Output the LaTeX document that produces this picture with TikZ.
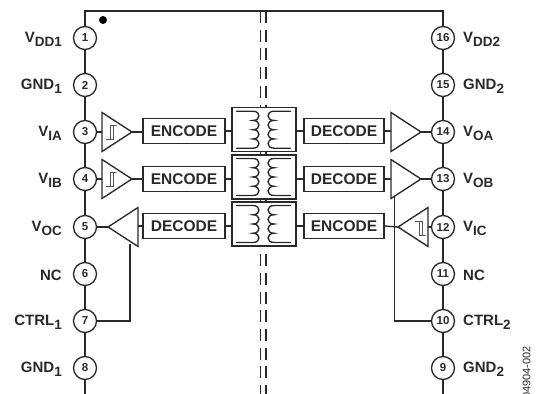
\documentclass[tikz,border=0pt]{standalone}
\usepackage{fontspec}
\setmainfont{Liberation Sans}
\usetikzlibrary{shapes.geometric,calc}
\definecolor{inkdark}{gray}{0.16}
\newcommand{\lowidx}[2]{#1\raisebox{-.3em}{\fontsize{13.5}{13.5}\selectfont #2}}
\tikzset{
  wire/.style={draw=inkdark,line width=1.35pt},
  pinball/.style={circle,draw=inkdark,line width=1.35pt,fill=white,minimum size=23pt,inner sep=0pt,
    text=inkdark,font=\fontsize{11.5}{11.5}\selectfont\bfseries},
  pinname/.style={text=inkdark,font=\fontsize{15}{15}\selectfont\bfseries,inner sep=0pt},
  codebox/.style={rectangle,draw=inkdark,line width=1.35pt,fill=white,minimum height=25pt,inner sep=0pt,
    text=inkdark,font=\fontsize{15.5}{15.5}\selectfont\bfseries},
  corebox/.style={rectangle,draw=inkdark,line width=1.4pt,fill=white,minimum width=64pt,minimum height=44pt,inner sep=0pt},
  buffer/.style={isosceles triangle,isosceles triangle stretches,draw=inkdark,line width=1.35pt,fill=white,
    minimum width=39pt,minimum height=30pt,inner sep=0pt,outer sep=0pt},
  schmitt/.pic={
    \draw[draw=inkdark!80,line width=1pt] (-5.5,7)--(2,7)--(2,-7)--(6,-7)--(-1,-7)--(-1,7);
  },
  coilpair/.pic={
    \foreach \s in {-1,1}{
      \draw[wire,xscale=\s,line cap=round] (-27,-18.5)--(-10.5,-18.5)
        \foreach \k in {0,1,2,3}{
          .. controls (-2.5,-18.5+9.25*\k) and (-2.5,-18.5+9.25*\k+9.25) .. (-10.5,-18.5+9.25*\k+9.25)
        } --(-27,18.5);
    }
  }
}
\begin{document}
\begin{tikzpicture}[x=1pt,y=-1pt]
  \useasboundingbox (0,0) rectangle (547,394);
  % package outline
  \coordinate (topl) at (85,11);
  \coordinate (topr) at (443,11);
  \coordinate (botl) at (85,394);
  \coordinate (botr) at (443,394);
  \draw[wire] (botl) -- (topl) -- (topr) -- (botr);
  \fill[black] (103,20) circle (4);
  % isolation barrier
  \coordinate (bara) at (260.5,11);
  \coordinate (barb) at (266,11);
  \draw[wire,dash pattern=on 12pt off 6.7pt,line width=1.1pt] (bara) -- (bara |- botl);
  \draw[wire,dash pattern=on 12pt off 6.7pt,line width=1.1pt] (barb) -- (barb |- botl);

  \foreach \n/\yy in {1/38,2/85,3/132,4/179,5/227,6/274,7/321,8/368}
    \node[pinball] (p\n) at (85,\yy) {\n};
  \foreach \n/\yy in {16/38,15/85,14/132,13/179,12/227,11/274,10/321,9/368}
    \node[pinball] (p\n) at (443,\yy) {\n};

  \foreach \n/\txt in {1/\lowidx{V}{DD1},2/\lowidx{GND}{1},3/\lowidx{V}{IA},4/\lowidx{V}{IB},
      5/\lowidx{V}{OC},6/NC,7/\lowidx{CTRL}{1},8/\lowidx{GND}{1}}
    \node[pinname,anchor=east] (n\n) at ($(p\n.center)+(-23,1.5)$) {\txt};
  \foreach \n/\txt in {16/\lowidx{V}{DD2},15/\lowidx{GND}{2},14/\lowidx{V}{OA},13/\lowidx{V}{OB},
      12/\lowidx{V}{IC},11/NC,10/\lowidx{CTRL}{2},9/\lowidx{GND}{2}}
    \node[pinname,anchor=west] (n\n) at ($(p\n.center)+(20,1.5)$) {\txt};

  % transformers
  \foreach \i/\yy in {1/129.7,2/177,3/224}{
    \node[corebox] (core\i) at (264,\yy) {};
    \pic at (263.5,\yy) {coilpair};
  }
  \draw[wire,line width=1pt] (bara |- core1.south) -- (bara |- core2.north);
  \draw[wire,line width=1pt] (barb |- core1.south) -- (barb |- core2.north);
  \draw[wire,line width=1pt] (bara |- core2.south) -- (bara |- core3.north);
  \draw[wire,line width=1pt] (barb |- core2.south) -- (barb |- core3.north);

  % code blocks
  \foreach \i/\yy/\la/\lb in {1/131/ENCODE/DECODE,2/179/ENCODE/DECODE,3/226/DECODE/ENCODE}{
    \node[codebox,minimum width=82pt] (cl\i) at (184,\yy) {\la};
    \node[codebox,minimum width=80pt] (cr\i) at (344,\yy) {\lb};
    \draw[wire] (cl\i.east) -- (cl\i.east -| core\i.west);
    \draw[wire] (cr\i.west) -- (cr\i.west -| core\i.east);
  }

  % buffers
  \node[buffer,anchor=apex] (bufa) at (132,132) {};
  \node[buffer,anchor=apex] (bufb) at (132,179) {};
  \node[buffer,anchor=apex,shape border rotate=180] (bufc) at (108,227) {};
  \node[buffer,anchor=apex] (bufd) at (421,132) {};
  \node[buffer,anchor=apex] (bufe) at (421,179) {};
  \node[buffer,anchor=apex,shape border rotate=180] (buff) at (398,227) {};
  \pic at (111,132) {schmitt};
  \pic at (111,179) {schmitt};
  \pic[yscale=-1] at (420,228) {schmitt};

  \draw[wire] (p3) -- (p3 -| bufa.west);
  \draw[wire] (p4) -- (p4 -| bufb.west);
  \draw[wire] (bufa.apex) -- (bufa.apex -| cl1.west);
  \draw[wire] (bufb.apex) -- (bufb.apex -| cl2.west);
  \draw[wire] (p5) -- (bufc.apex);
  \draw[wire] (bufc.east |- cl3.west) -- (cl3.west);
  \draw[wire] (cr1.east) -- (cr1.east -| bufd.west);
  \draw[wire] (cr2.east) -- (cr2.east -| bufe.west);
  \draw[wire] (bufd.apex) -- (p14);
  \draw[wire] (bufe.apex) -- (p13);
  \draw[wire] (cr3.east) -- (buff.apex);
  \draw[wire] (buff.east) -- (p12);

  % control lines
  \coordinate (ctla) at (130,244);
  \coordinate (ctlb) at (394.5,197);
  \draw[wire] (p7) -| (ctla);
  \draw[wire] (p10) -| (ctlb);

  \node[rotate=90,anchor=east,inner sep=0pt,text=inkdark,font=\fontsize{11}{11}\selectfont] (partno) at (526.5,346) {04904-002};
\end{tikzpicture}
\end{document}
